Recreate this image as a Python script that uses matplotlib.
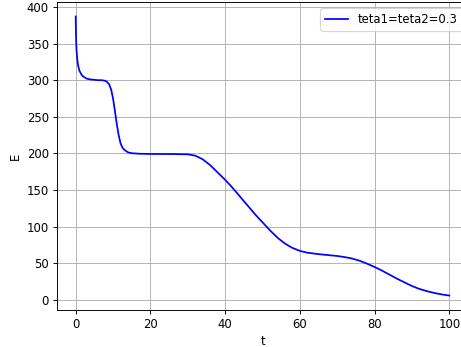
import matplotlib
matplotlib.use("Agg")
import matplotlib.pyplot as plt

# values
t = [0, 0.05, 0.1, 0.2, 0.4, 0.6, 1.0, 1.5, 2, 3, 4, 5, 6, 7, 8, 8.5, 9, 9.5,
     10, 10.5, 11, 11.5, 12, 12.5, 13, 14, 15, 17, 20, 25, 30, 32, 34, 36,
     38, 40, 42, 44, 46, 48, 50, 52, 54, 56, 58, 60, 62, 65, 68, 70, 72, 74,
     76, 78, 80, 82, 84, 86, 88, 90, 92, 94, 96, 98, 100]
E = [387, 370, 358, 343, 330, 321, 313, 308, 305, 302, 301, 300.5, 300, 300,
     299, 297, 294, 287, 275, 258, 240, 225, 214, 208, 205, 201.5, 200.3,
     199.6, 199.3, 199.2, 198.8, 197, 192, 184, 174, 164, 153, 141, 129,
     117, 106, 95, 85, 77, 71, 67, 64.5, 62.5, 61, 60, 58.5, 56.5, 53.5, 49.5,
     45, 40, 34.5, 29, 24, 19, 15, 12, 9.5, 7.5, 6]
label = "teta1=teta2=0.3"

dpi = 84
fig = plt.figure(figsize=(461/dpi, 347/dpi), dpi=dpi)
ax = fig.add_axes([57/461, 37.5/347, 411/461, 307/347])
ax.plot(t, E, color="blue", label=label)
ax.set_xlabel("t")
ax.set_ylabel("E")
ax.grid(True)
ax.legend(loc="upper right")
fig.savefig("out.png", dpi=dpi)
